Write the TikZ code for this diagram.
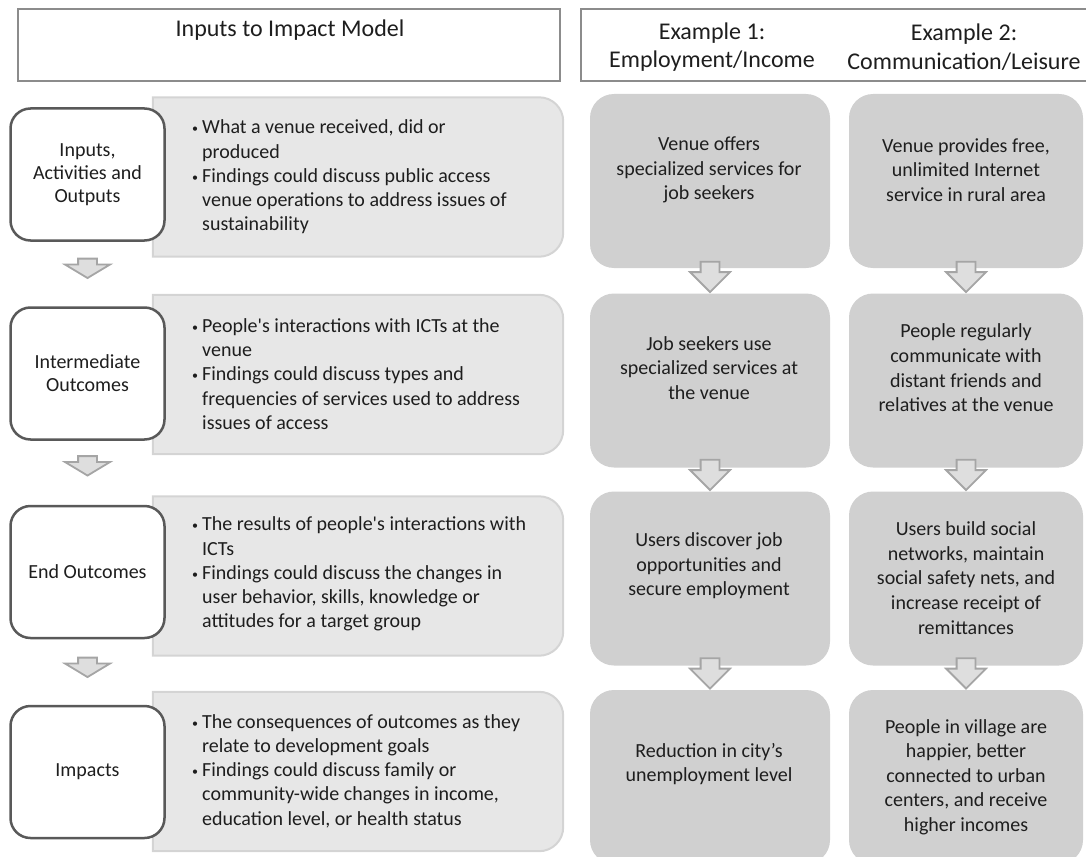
\documentclass[tikz,border=0pt]{standalone}
\usepackage{fontspec}
\setmainfont{Carlito}
\usetikzlibrary{shapes.arrows}
\definecolor{hdrline}{RGB}{140,140,140}
\definecolor{boxline}{RGB}{89,89,89}
\definecolor{infofill}{RGB}{231,231,231}
\definecolor{infoline}{RGB}{212,212,212}
\definecolor{exfill}{RGB}{208,208,208}
\definecolor{arrfill}{RGB}{222,222,222}
\definecolor{arrline}{RGB}{165,165,165}
\definecolor{txt}{RGB}{30,30,30}
\newcommand{\itm}{\makebox[10pt][l]{\raisebox{1pt}{\fontsize{12}{12}\selectfont •}}}
\newcommand{\ind}{\hspace*{10pt}}

\begin{document}
\begin{tikzpicture}[x=1pt, y=-1pt, every node/.style={text=txt},
    hdr/.style={draw=hdrline, line width=1.2pt, inner sep=0pt},
    hdrtext/.style={font=\fontsize{24}{28.5}\selectfont, align=center, inner sep=0pt},
    stage/.style={draw=boxline, line width=2.5pt, fill=white, rounded corners=20pt,
      minimum width=154pt, minimum height=132pt, align=center, font=\fontsize{20}{23}\selectfont},
    infoframe/.style={minimum width=410pt, minimum height=159pt, inner sep=0pt},
    info/.style={draw=infoline, line width=2pt, fill=infofill},
    bullets/.style={align=left, anchor=west, inner sep=0pt, font=\fontsize{20}{24.2}\selectfont},
    exbox/.style={fill=exfill, rounded corners=24pt, minimum height=174pt, inner sep=0pt},
    extext/.style={align=center, inner sep=0pt, font=\fontsize{20}{24.6}\selectfont},
    blockarrow/.style={single arrow, draw=arrline, fill=arrfill, line width=1.8pt, rotate=-90,
      anchor=tip, inner ysep=8.5pt, minimum height=0pt, minimum width=0pt},
    smalldown/.style={blockarrow, inner xsep=6pt, single arrow head extend=13pt, single arrow tip angle=118},
    bigdown/.style={blockarrow, inner xsep=9.5pt, single arrow head extend=10.5pt}]
  \useasboundingbox (0,0) rectangle (1086,856);

  % headers
  \node[hdr, minimum width=542pt, minimum height=72pt] (hdrL) at (289,45) {};
  \node[hdr, minimum width=511pt, minimum height=72pt] (hdrR) at (836.5,45) {};
  \node[hdrtext] (hdrLt) at (290,30) {Inputs to Impact Model};
  \node[hdrtext] (hdrE1) at (712,47) {Example 1:\\Employment/Income};
  \node[hdrtext] (hdrE2) at (964,47) {Example 2:\\Communication/Leisure};

  % left column
  \node[infoframe] (g1) at (358,177) {};
  \filldraw[info] (g1.south west) -- (g1.north west) -- ([xshift=-24pt]g1.north east)
    arc[start angle=90, end angle=0, radius=24pt] -- ([yshift=24pt]g1.south east)
    arc[start angle=0, end angle=-90, radius=24pt] -- cycle;
  \node[stage] (w1) at (87.5,174.5) {Inputs,\\Activities and\\Outputs};
  \node[bullets] (t1) at (192,177) {\itm What a venue received, did or\\
    \ind produced\\
    \itm Findings could discuss public access\\
    \ind venue operations to address issues of\\
    \ind sustainability};

  \node[infoframe] (g2) at (358,374.5) {};
  \filldraw[info] (g2.south west) -- (g2.north west) -- ([xshift=-24pt]g2.north east)
    arc[start angle=90, end angle=0, radius=24pt] -- ([yshift=24pt]g2.south east)
    arc[start angle=0, end angle=-90, radius=24pt] -- cycle;
  \node[stage] (w2) at (87.5,373.5) {Intermediate\\Outcomes};
  \node[bullets] (t2) at (192,374) {\itm People\textquotesingle s interactions with ICTs at the\\
    \ind venue\\
    \itm Findings could discuss types and\\
    \ind frequencies of services used to address\\
    \ind issues of access};

  \node[infoframe] (g3) at (358,576) {};
  \filldraw[info] (g3.south west) -- (g3.north west) -- ([xshift=-24pt]g3.north east)
    arc[start angle=90, end angle=0, radius=24pt] -- ([yshift=24pt]g3.south east)
    arc[start angle=0, end angle=-90, radius=24pt] -- cycle;
  \node[stage] (w3) at (87.5,572) {End Outcomes};
  \node[bullets] (t3) at (192,574) {\itm The results of people\textquotesingle s interactions with\\
    \ind ICTs\\
    \itm Findings could discuss the changes in\\
    \ind user behavior, skills, knowledge or\\
    \ind attitudes for a target group};

  \node[infoframe] (g4) at (358,771.5) {};
  \filldraw[info] (g4.south west) -- (g4.north west) -- ([xshift=-24pt]g4.north east)
    arc[start angle=90, end angle=0, radius=24pt] -- ([yshift=24pt]g4.south east)
    arc[start angle=0, end angle=-90, radius=24pt] -- cycle;
  \node[stage] (w4) at (87.5,772) {Impacts};
  \node[bullets] (t4) at (192,771) {\itm The consequences of outcomes as they\\
    \ind relate to development goals\\
    \itm Findings could discuss family or\\
    \ind community-wide changes in income,\\
    \ind education level, or health status};

  \node[smalldown, anchor=tail] (a1) at ([yshift=-1pt]w1 |- g1.south) {};
  \node[smalldown, anchor=tail] (a2) at ([yshift=-1pt]w2 |- g2.south) {};
  \node[smalldown, anchor=tail] (a3) at ([yshift=-1pt]w3 |- g3.south) {};

  % example 1
  \node[exbox, minimum width=240pt] (e1) at (710,181) {};
  \node[exbox, minimum width=240pt] (e2) at (710,380.5) {};
  \node[exbox, minimum width=240pt] (e3) at (710,578.5) {};
  \node[exbox, minimum width=240pt] (e4) at (710,777) {};
  \node[extext] (e1t) at (709,170) {Venue offers\\specialized services for\\job seekers};
  \node[extext] (e2t) at (709,368) {Job seekers use\\specialized services at\\the venue};
  \node[extext] (e3t) at (709,566) {Users discover job\\opportunities and\\secure employment};
  \node[extext] (e4t) at (709,764) {Reduction in city's\\unemployment level};
  \node[bigdown] (b1) at (e2.north) {};
  \node[bigdown] (b2) at (e3.north) {};
  \node[bigdown] (b3) at (e4.north) {};

  % example 2
  \node[exbox, minimum width=234pt] (c1) at (966,181) {};
  \node[exbox, minimum width=234pt] (c2) at (966,380.5) {};
  \node[exbox, minimum width=234pt] (c3) at (966,578.5) {};
  \node[exbox, minimum width=234pt] (c4) at (966,777) {};
  \node[extext] (c1t) at (966,170) {Venue provides free,\\unlimited Internet\\service in rural area};
  \node[extext] (c2t) at (966,368) {People regularly\\communicate with\\distant friends and\\relatives at the venue};
  \node[extext] (c3t) at (966,578) {Users build social\\networks, maintain\\social safety nets, and\\increase receipt of\\remittances};
  \node[extext] (c4t) at (966,777) {People in village are\\happier, better\\connected to urban\\centers, and receive\\higher incomes};
  \node[bigdown] (d1) at (c2.north) {};
  \node[bigdown] (d2) at (c3.north) {};
  \node[bigdown] (d3) at (c4.north) {};
\end{tikzpicture}
\end{document}
